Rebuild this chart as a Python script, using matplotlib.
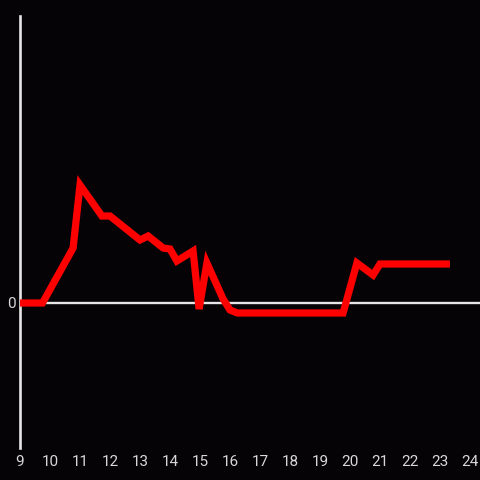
"""Single red series over a dark background, zero baseline."""

import matplotlib
matplotlib.use("Agg")
import matplotlib.pyplot as plt

BG = "#050306"
AXIS = "#e6e6e6"
LINE = "#ff0000"

hours = [9.0, 9.75, 10.77, 11.0, 11.73, 12.0, 13.0, 13.27, 13.77, 14.0, 14.23,
         14.77, 14.97, 15.23, 15.77, 16.0, 16.25, 19.77, 20.23, 20.77, 21.0, 23.33]
values = [0, 0, 55, 118, 87, 87, 63, 67, 55, 54, 42,
          52, -6, 40, 4, -7, -10, -10, 40, 28, 39, 39]
xticks = list(range(9, 25))

fig = plt.figure(figsize=(4.8, 4.8), dpi=100, facecolor=BG)
ax = fig.add_axes([20 / 480, 32 / 480, 460 / 480, 432 / 480])
ax.set_facecolor(BG)

ax.plot(hours, values, color=LINE, linewidth=5.2, solid_joinstyle="miter",
        solid_capstyle="butt", zorder=3)
ax.axhline(0, color=AXIS, linewidth=1.7, zorder=2)

ax.set_xlim(9, 24 + 1 / 3)
ax.set_ylim(-145, 287)

for side in ["top", "right", "bottom"]:
    ax.spines[side].set_visible(False)
ax.spines["left"].set_color(AXIS)
ax.spines["left"].set_linewidth(1.9)

ax.set_xticks(xticks)
ax.set_xticklabels([str(t) for t in xticks])
ax.set_yticks([0])
ax.set_yticklabels(["0"])
ax.tick_params(length=0, colors=AXIS, labelsize=11)
ax.tick_params(axis="x", pad=5)
ax.tick_params(axis="y", pad=3)
for lbl in ax.get_xticklabels() + ax.get_yticklabels():
    lbl.set_fontfamily("Roboto")
    lbl.set_color("#d8d8d8")

fig.savefig("out.png", dpi=100, facecolor=BG)
